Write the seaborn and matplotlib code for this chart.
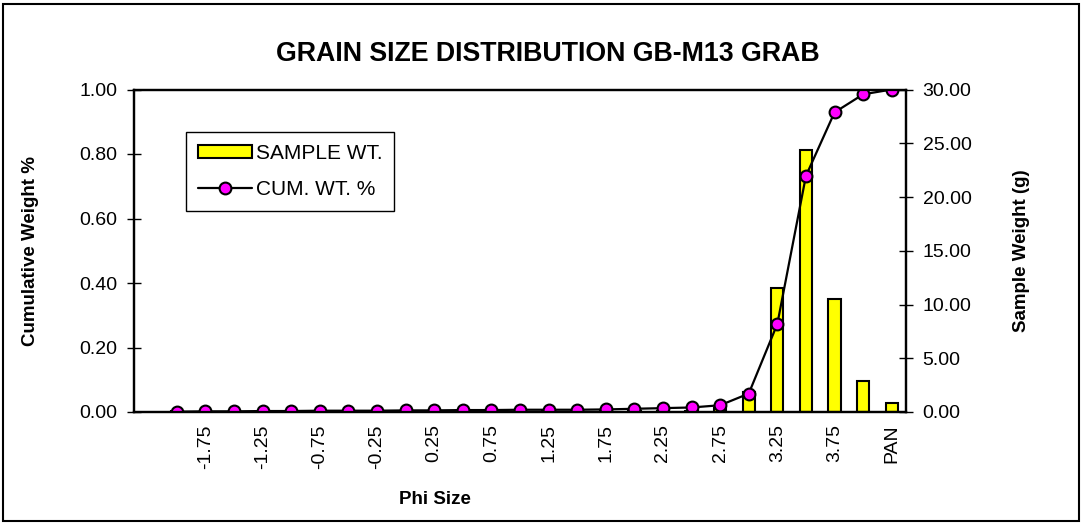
import matplotlib
matplotlib.use('Agg')

import matplotlib.pyplot as plt
from matplotlib.lines import Line2D
from matplotlib.patches import Patch, Rectangle
from matplotlib.ticker import FormatStrFormatter
import numpy as np
import seaborn as sns

############################################ DATOS ################################################

# La primera categoria del eje va vacia (sin etiqueta ni datos)
categorias = ['', '-2.00', '-1.75', '-1.50', '-1.25', '-1.00', '-0.75', '-0.50', '-0.25', '0.00',
              '0.25', '0.50', '0.75', '1.00', '1.25', '1.50', '1.75', '2.00', '2.25', '2.50',
              '2.75', '3.00', '3.25', '3.50', '3.75', '4.00', 'PAN']

tamaño_phi = categorias[1:]

# Peso de la muestra en gramos (eje derecho)
peso_muestra = [0.05, 0.04, 0.03, 0.03, 0.03, 0.03, 0.03, 0.03, 0.03, 0.03, 0.04, 0.04, 0.04,
                0.05, 0.06, 0.06, 0.08, 0.09, 0.12, 0.35, 1.85, 11.50, 24.40, 10.50, 2.90, 0.80]

# Peso acumulado (eje izquierdo)
peso_acumulado = [0.001, 0.002, 0.002, 0.003, 0.003, 0.004, 0.004, 0.004, 0.005, 0.005, 0.006,
                  0.006, 0.007, 0.007, 0.007, 0.008, 0.010, 0.012, 0.014, 0.021, 0.057, 0.273,
                  0.732, 0.929, 0.985, 1.000]

# Solo se rotula una de cada dos categorias
etiquetas_x = categorias[2::2]

ticks_izq = [0.0, 0.2, 0.4, 0.6, 0.8, 1.0]
ticks_der = [0, 5, 10, 15, 20, 25, 30]

titulo = 'GRAIN SIZE DISTRIBUTION GB-M13 GRAB'


########################################## GRAFICA ################################################

def distribucion_granulometrica():
    '''
    Grafica el peso de la muestra (barras, eje derecho) y el peso acumulado
    (linea con marcadores, eje izquierdo) por tamaño phi.
    '''
    sns.set_style('white')
    plt.rcParams['font.family'] = ['Liberation Sans', 'DejaVu Sans']
    plt.rcParams['text.color'] = 'black'
    plt.rcParams['axes.labelcolor'] = 'black'
    plt.rcParams['xtick.color'] = 'black'
    plt.rcParams['ytick.color'] = 'black'

    fig = plt.figure(figsize=(10.82, 5.24), dpi=100)
    ax_barras = fig.add_axes([134 / 1082, 1 - 412 / 524, 772 / 1082, 322.5 / 524])
    ax_linea = ax_barras.twinx()

    # Se grafican las barras
    sns.barplot(x=tamaño_phi, y=peso_muestra, order=categorias, ax=ax_barras, color='#FFFF00',
                saturation=1, edgecolor='black', linewidth=1.5, width=0.43)

    # Se grafica la linea acumulada
    posiciones = [categorias.index(t) for t in tamaño_phi]
    sns.lineplot(x=posiciones, y=peso_acumulado, ax=ax_linea, color='black', linewidth=1.6,
                 marker='o', markersize=8.5, markerfacecolor='#FF00FF', markeredgecolor='black',
                 markeredgewidth=1.5)

    # Ejes: barras a la derecha, linea a la izquierda
    ax_barras.yaxis.tick_right()
    ax_barras.yaxis.set_label_position('right')
    ax_linea.yaxis.tick_left()
    ax_linea.yaxis.set_label_position('left')

    ax_barras.set_xlim(-0.5, len(categorias) - 0.5)
    ax_barras.set_ylim(0, 30)
    ax_linea.set_ylim(0, 1)
    ax_barras.set_yticks(ticks_der)
    ax_linea.set_yticks(ticks_izq)
    ax_barras.yaxis.set_major_formatter(FormatStrFormatter('%.2f'))
    ax_linea.yaxis.set_major_formatter(FormatStrFormatter('%.2f'))

    # Marcas del eje x entre categorias y etiquetas en el centro
    ax_barras.set_xticks(np.arange(1.5, len(categorias) - 1, 2))
    ax_barras.set_xticklabels([])
    ax_barras.set_xticks(np.arange(2, len(categorias), 2), minor=True)
    ax_barras.set_xticklabels(etiquetas_x, minor=True, rotation=90, fontsize=14)
    ax_barras.tick_params(axis='x', which='major', direction='inout', length=10, width=1)
    ax_barras.tick_params(axis='x', which='minor', length=0, pad=9)

    ax_barras.tick_params(axis='y', direction='inout', length=10, width=1, labelsize=14, pad=7)
    ax_linea.tick_params(axis='y', direction='inout', length=10, width=1, labelsize=14, pad=7)

    for ax in (ax_barras, ax_linea):
        for spine in ax.spines.values():
            spine.set_color('black')
            spine.set_linewidth(1.6)

    # Etiquetas de los ejes
    ax_barras.set_xlabel('Phi Size', fontsize=13.5, fontweight='bold')
    ax_barras.xaxis.set_label_coords(0.39, -0.245)
    ax_barras.set_ylabel('Sample Weight (g)', fontsize=13.5, fontweight='bold')
    ax_barras.yaxis.set_label_coords(1.139, 0.5)
    ax_linea.set_ylabel('Cumulative Weight %', fontsize=13.5, fontweight='bold')
    ax_linea.yaxis.set_label_coords(-0.123, 0.5)

    fig.text(0.506, 0.897, titulo, ha='center', va='center', fontsize=19.3, fontweight='bold')

    # Leyenda
    manejadores = [Patch(facecolor='#FFFF00', edgecolor='black', linewidth=1.5),
                   Line2D([], [], color='black', linewidth=1.6, marker='o', markersize=8.5,
                          markerfacecolor='#FF00FF', markeredgecolor='black', markeredgewidth=1.5)]
    leyenda = ax_linea.legend(manejadores, ['SAMPLE WT.', 'CUM. WT. %'], loc='upper left',
                              bbox_to_anchor=(0.068, 0.868), borderaxespad=0, fontsize=15,
                              fancybox=False, framealpha=1, edgecolor='black',
                              handlelength=2.6, handleheight=0.6, handletextpad=0.2,
                              labelspacing=0.85, borderpad=0.55)
    leyenda.get_frame().set_linewidth(1.0)

    # Marco exterior de la figura
    fig.patches.append(Rectangle((3 / 1082, 3 / 524), 1076 / 1082, 517 / 524, fill=False,
                                 edgecolor='black', linewidth=1.5, transform=fig.transFigure))

    fig.savefig('out.png', dpi=100)


distribucion_granulometrica()
